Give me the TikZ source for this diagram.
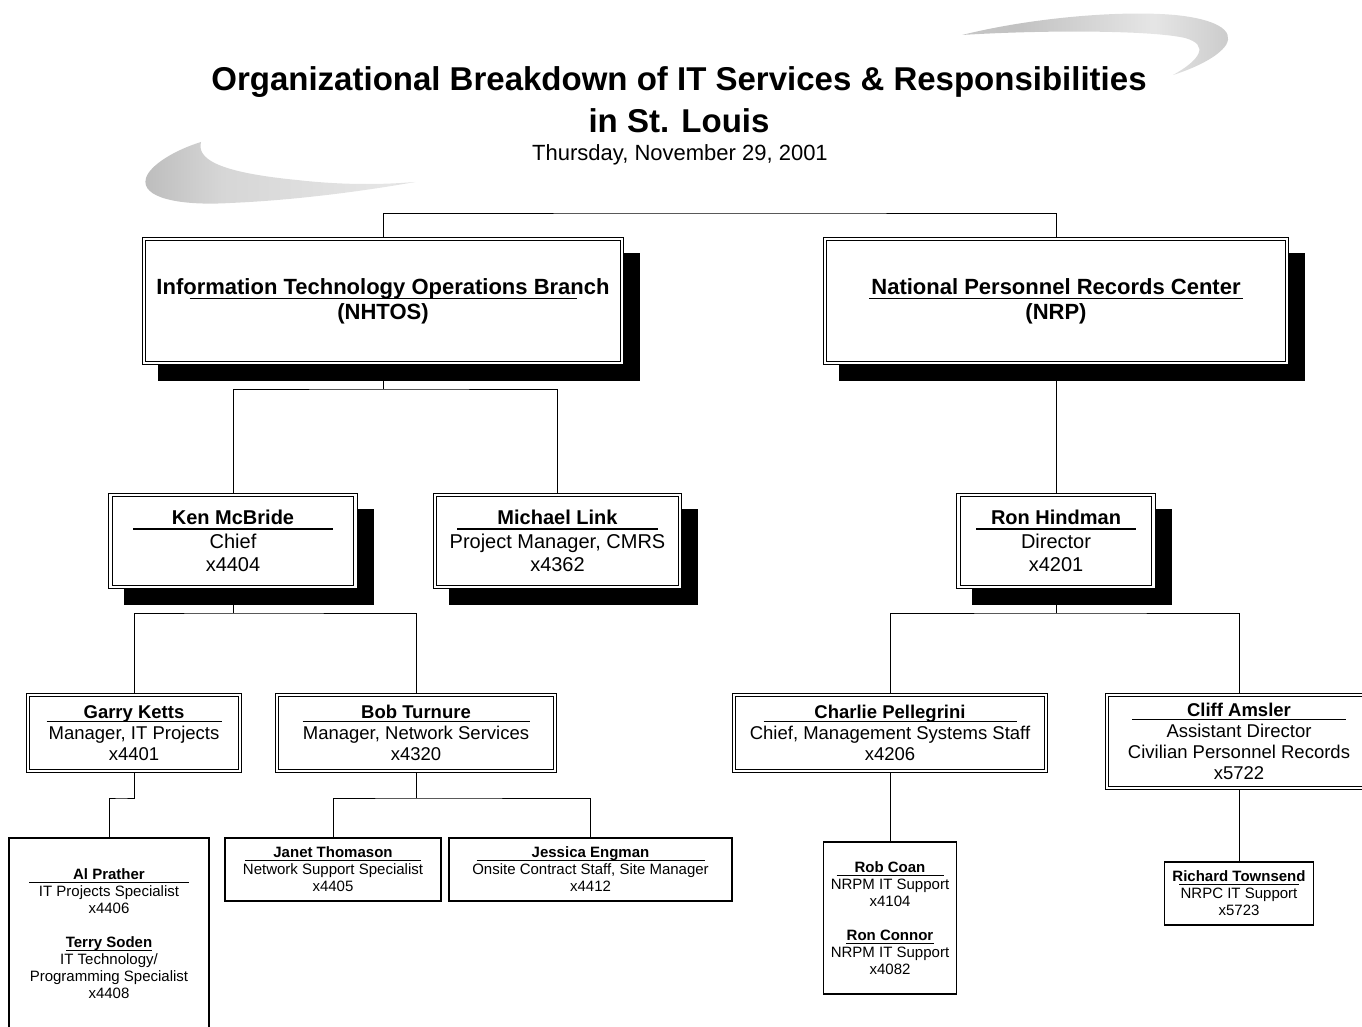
\documentclass[tikz,border=0pt]{standalone}
\usepackage{fontspec}
\setmainfont{Liberation Sans}
\usetikzlibrary{backgrounds}

% grey gradients of the two decorative swooshes
\pgfdeclarehorizontalshading{swooshleft}{100bp}{color(0bp)=(black!44); color(40bp)=(black!16); color(70bp)=(black!10); color(100bp)=(black!28)}
\pgfdeclarehorizontalshading{swooshright}{100bp}{color(0bp)=(black!18); color(35bp)=(black!24); color(60bp)=(black!10); color(82bp)=(black!26); color(100bp)=(black!46)}

\newcommand\setfs[2]{\fontsize{#1}{#2}\selectfont}
% bold name with a centred rule under it: name, rule width, drop below baseline
\newcommand\hdr[3]{\makebox[0pt][c]{\textbf{#1}}\makebox[0pt][c]{\rule[-#3pt]{#2pt}{1.3pt}}}

\tikzset{
  link/.style={line width=1.7pt},
  dbox/.style={rectangle, draw, double=white, double distance=2.2pt, line width=1.2pt,
               fill=white, inner sep=0pt, align=center},
  sbox/.style={rectangle, draw, line width=1.7pt, fill=white, inner sep=0pt, align=center},
  shadowed/.style={preaction={fill=black, draw=black, line width=4.6pt,
               transform canvas={shift={(16pt,-16pt)}}}},
  lvA/.style={font=\setfs{22}{25}},
  lvB/.style={font=\setfs{20}{23.5}},
  lvC/.style={font=\setfs{18.5}{21.2}},
  lvD/.style={font=\setfs{15}{17}},
}

\begin{document}
\begin{tikzpicture}[x=1pt,y=-1pt]
\useasboundingbox (0,0) rectangle (1362,1027);

% swooshes
\shade[shading=swooshleft] (201,142) .. controls (197,158) and (215,172) .. (297,180)
  .. controls (350,186) and (390,184) .. (415,182)
  .. controls (370,190) and (300,200) .. (230,203)
  .. controls (180,206) and (140,198) .. (146,178)
  .. controls (150,165) and (175,150) .. (201,142) -- cycle;
\shade[shading=swooshright] (962,35) .. controls (1030,18) and (1120,10) .. (1175,15)
  .. controls (1215,19) and (1235,30) .. (1226,45)
  .. controls (1218,57) and (1195,68) .. (1173,75)
  .. controls (1200,60) and (1210,45) .. (1185,38)
  .. controls (1150,30) and (1040,30) .. (962,35) -- cycle;

% title
\node[font=\setfs{33}{42}\bfseries, align=center] (title) at (679,100)
  {Organizational Breakdown of IT Services \& Responsibilities\\in St. Louis};
\node[font=\setfs{22}{25}, anchor=base] (date) at (680,160.7) {Thursday, November 29, 2001};

% level 1
\node[dbox, shadowed, lvA, minimum width=478pt, minimum height=124pt] (nhtos) at (383,301)
  {\hdr{Information Technology Operations Branch}{387}{5}\\\textbf{(NHTOS)}};
\node[dbox, shadowed, lvA, minimum width=462pt, minimum height=124pt] (nrp) at (1056,301)
  {\hdr{National Personnel Records Center}{374}{5}\\\textbf{(NRP)}};

% level 2
\node[dbox, shadowed, lvB, minimum width=245pt, minimum height=92pt] (ken) at (233,541)
  {\hdr{Ken McBride}{200}{5}\\Chief\\x4404};
\node[dbox, shadowed, lvB, minimum width=245pt, minimum height=92pt] (mike) at (557.5,541)
  {\hdr{Michael Link}{201}{5}\\Project Manager, CMRS\\x4362};
\node[dbox, shadowed, lvB, minimum width=195pt, minimum height=92pt] (ron) at (1056,541)
  {\hdr{Ron Hindman}{160}{5}\\Director\\x4201};

% level 3
\node[dbox, lvC, minimum width=212pt, minimum height=76pt] (garry) at (134,733)
  {\hdr{Garry Ketts}{175}{4}\\Manager, IT Projects\\x4401};
\node[dbox, lvC, minimum width=278pt, minimum height=76pt] (bob) at (416,733)
  {\hdr{Bob Turnure}{227}{4}\\Manager, Network Services\\x4320};
\node[dbox, lvC, minimum width=312pt, minimum height=76pt] (charlie) at (890,733)
  {\hdr{Charlie Pellegrini}{253}{4}\\Chief, Management Systems Staff\\x4206};
\node[dbox, lvC, minimum width=264pt, minimum height=93pt] (cliff) at (1239,741.5)
  {\hdr{Cliff Amsler}{214}{4}\\Assistant Director\\Civilian Personnel Records\\x5722};

% level 4
\node[sbox, lvD, minimum width=200pt, minimum height=192pt] (al) at (109,934)
  {\hdr{Al Prather}{160}{3.5}\\IT Projects Specialist\\x4406\\[17pt]
   \hdr{Terry Soden}{86}{3.5}\\IT Technology/\\Programming Specialist\\x4408};
\node[sbox, lvD, minimum width=216pt, minimum height=63pt] (janet) at (333,869.5)
  {\hdr{Janet Thomason}{176}{3.5}\\Network Support Specialist\\x4405};
\node[sbox, lvD, minimum width=283pt, minimum height=63pt] (jess) at (590.5,869.5)
  {\hdr{Jessica Engman}{228}{3.5}\\Onsite Contract Staff, Site Manager\\x4412};
\node[sbox, lvD, minimum width=133pt, minimum height=152pt] (rob) at (890,918)
  {\hdr{Rob Coan}{107}{3.5}\\NRPM IT Support\\x4104\\[17pt]
   \hdr{Ron Connor}{88}{3.5}\\NRPM IT Support\\x4082};
\node[sbox, lvD, minimum width=149pt, minimum height=63pt] (rich) at (1239,893.5)
  {\hdr{Richard Townsend}{120}{3.5}\\NRPC IT Support\\x5723};

% connectors
\coordinate (topbus) at (720,213);
\coordinate (busA) at (383,389);
\coordinate (busB) at (233,613);
\coordinate (busC) at (1056,613);
\coordinate (elbowG) at (121,798);
\coordinate (busD) at (416,798);
\begin{scope}[on background layer, link]
  \draw (nhtos.north) |- (topbus) -| (nrp.north);
  \draw (nhtos.south) -- (busA);
  \draw (ken.north) |- (busA) -| (mike.north);
  \draw (nrp.south) -- (ron.north);
  \draw (ken.south) -- (busB);
  \draw (garry.north) |- (busB) -| (bob.north);
  \draw (ron.south) -- (busC);
  \draw (charlie.north) |- (busC) -| (cliff.north);
  \draw (garry.south) |- (elbowG) -| (al.north);
  \draw (bob.south) -- (busD);
  \draw (janet.north) |- (busD) -| (jess.north);
  \draw (charlie.south) -- (rob.north);
  \draw (cliff.south) -- (rich.north);
\end{scope}
\end{tikzpicture}
\end{document}
